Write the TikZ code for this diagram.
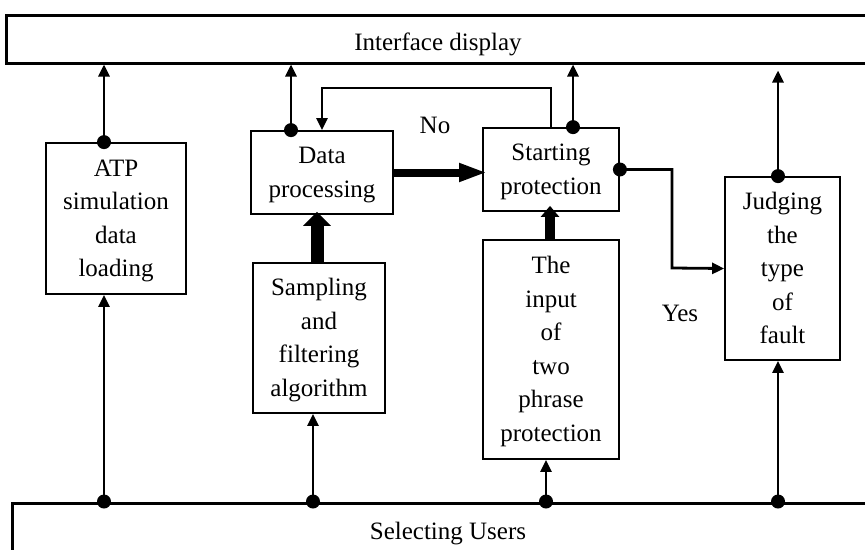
\documentclass[tikz,border=0pt]{standalone}
\usepackage{fontspec}
\setmainfont{Liberation Serif}
\usetikzlibrary{arrows.meta}
\newcommand\mlines[1]{\raisebox{-1.5pt}[\height][\depth]{\begin{tabular}{@{}c@{}}#1\end{tabular}}}
\begin{document}
\begin{tikzpicture}[x=1pt,y=-1pt,
  txt/.style={font=\fontsize{25}{33.5}\selectfont},
  box/.style={txt,draw,line width=1.8pt,inner sep=0pt},
  bar/.style={txt,draw,line width=3pt,inner sep=0pt,text height=26pt,text depth=4pt},
  con/.style={line width=2.8pt,-{Triangle[length=12pt,width=11pt]}},
  fatsa/.style={line width=13pt,-{Triangle[length=14pt,width=27pt]},shorten >=-3pt},
  fattp/.style={line width=10pt,-{Triangle[length=11pt,width=18pt]},shorten >=-6pt},
  fath/.style={line width=8pt,-{Triangle[length=28pt,width=17pt]},shorten >=-5pt},
  dot/.style={circle,fill,inner sep=0pt,minimum size=14pt}]
\useasboundingbox (0,0) rectangle (865,549);
\fill[white] (0,0) rectangle (865,549);
\clip (0,0) rectangle (865,549);

% bars
\node[bar,minimum width=864pt,minimum height=48pt] (iface) at (438,39) {Interface display};
\node[bar,minimum width=872pt,minimum height=50pt] (users) at (448,528) {Selecting Users};

% boxes
\node[box,minimum width=140pt,minimum height=151pt] (atp) at (116,218.5) {\mlines{ATP\\simulation\\data\\loading}};
\node[box,minimum width=142pt,minimum height=83pt] (dp) at (322,172.5) {\mlines{Data\\processing}};
\node[box,minimum width=136pt,minimum height=83pt] (sp) at (551,169.5) {\mlines{Starting\\protection}};
\node[box,minimum width=115pt,minimum height=183pt] (jd) at (782.5,268.5) {\mlines{Judging\\the\\type\\of\\fault}};
\node[box,minimum width=132pt,minimum height=150pt] (sa) at (319,338) {\mlines{Sampling\\and\\filtering\\algorithm}};
\node[box,minimum width=136pt,minimum height=219pt] (tp) at (551,349.5) {\mlines{The\\input\\of\\two\\phrase\\protection}};

% labels
\node[txt] (no) at (435,125) {No};
\node[txt] (yes) at (680,313) {Yes};

% x positions
\coordinate (xa) at (104,0);
\coordinate (xd) at (291,0);
\coordinate (xst) at (573,0);
\coordinate (xj) at (778,0);
\coordinate (xsa) at (313,0);
\coordinate (xtp) at (546,0);
\coordinate (xfs) at (317,0);
\coordinate (xft) at (550,0);
\coordinate (loopl) at (322,88);
\coordinate (loopr) at (551,88);
\coordinate (turn) at (672,268);

% connectors up to interface
\draw[con] (atp.north -| xa) -- (iface.south -| xa);
\draw[con] (dp.north -| xd) -- (iface.south -| xd);
\draw[con] (sp.north -| xst) -- (iface.south -| xst);
\draw[con,shorten >=6pt] (jd.north -| xj) -- (iface.south -| xj);

% loop No
\draw[con] (sp.north -| loopr) -- (loopr) -- (loopl) -- (dp.north -| loopl);

% yes path
\draw[con] (sp.east) -| (turn) -- (jd.west);

% from users
\draw[con] (users.north -| xa) -- (atp.south -| xa);
\draw[con] (users.north -| xsa) -- (sa.south -| xsa);
\draw[con] (users.north -| xtp) -- (tp.south -| xtp);
\draw[con] (users.north -| xj) -- (jd.south -| xj);

% thick arrows
\draw[fatsa] (sa.north -| xfs) -- (dp.south -| xfs);
\draw[fattp] (tp.north -| xft) -- (sp.south -| xft);
\draw[fath] (dp.east) -- (sp.west |- dp.east);

% dots
\node[dot] (d1) at (atp.north -| xa) {};
\node[dot] (d2) at (dp.north -| xd) {};
\node[dot] (d3) at (sp.north -| xst) {};
\node[dot] (d4) at (jd.north -| xj) {};
\node[dot] (d5) at (sp.east) {};
\node[dot] (u1) at (users.north -| xa) {};
\node[dot] (u2) at (users.north -| xsa) {};
\node[dot] (u3) at (users.north -| xtp) {};
\node[dot] (u4) at (users.north -| xj) {};
\end{tikzpicture}
\end{document}
